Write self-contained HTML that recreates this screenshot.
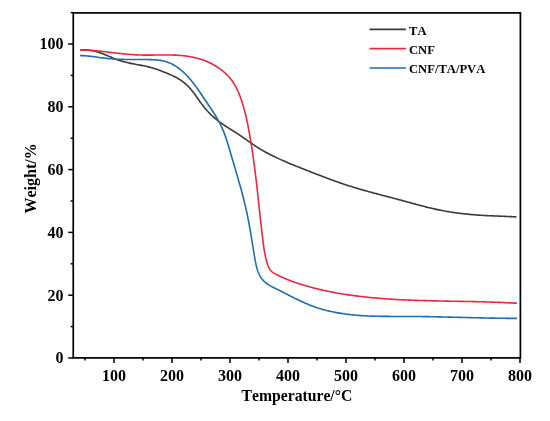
<!DOCTYPE html>
<html><head><meta charset="utf-8"><style>
html,body{margin:0;padding:0;background:#fff;}
svg{display:block;will-change:transform;}
text{font-family:"Liberation Serif",serif;font-weight:bold;fill:#000;font-kerning:none;}
</style></head><body>
<svg width="550" height="421" viewBox="0 0 550 421">
<rect width="550" height="421" fill="#fff"/>
<g fill="none" stroke-width="1.6" stroke-linejoin="round" stroke-linecap="butt">
<path d="M79.98,49.99 L81.22,49.89 L82.46,49.83 L83.69,49.81 L84.91,49.83 L86.12,49.88 L87.33,49.97 L88.52,50.09 L89.71,50.24 L90.89,50.42 L92.06,50.63 L93.22,50.87 L94.38,51.14 L95.54,51.42 L96.68,51.74 L97.83,52.07 L98.96,52.43 L100.09,52.81 L101.22,53.20 L102.34,53.62 L103.46,54.04 L104.57,54.49 L105.69,54.95 L106.80,55.41 L107.90,55.89 L109.01,56.37 L110.12,56.85 L111.23,57.32 L112.34,57.79 L113.45,58.25 L114.57,58.70 L115.69,59.13 L116.82,59.55 L117.95,59.94 L119.09,60.32 L120.24,60.69 L121.38,61.03 L122.54,61.37 L123.69,61.69 L124.85,61.99 L126.01,62.29 L127.18,62.57 L128.35,62.84 L129.52,63.10 L130.69,63.36 L131.87,63.60 L133.05,63.83 L134.23,64.06 L135.41,64.29 L136.59,64.51 L137.77,64.72 L138.95,64.94 L140.13,65.16 L141.31,65.38 L142.49,65.61 L143.66,65.84 L144.84,66.08 L146.01,66.33 L147.18,66.59 L148.35,66.86 L149.51,67.15 L150.67,67.45 L151.82,67.77 L152.97,68.10 L154.11,68.46 L155.25,68.83 L156.39,69.21 L157.52,69.60 L158.65,70.01 L159.78,70.42 L160.91,70.84 L162.03,71.27 L163.15,71.69 L164.28,72.13 L165.39,72.57 L166.51,73.01 L167.62,73.47 L168.73,73.93 L169.84,74.41 L170.94,74.89 L172.03,75.40 L173.11,75.91 L174.19,76.44 L175.26,76.99 L176.33,77.56 L177.38,78.15 L178.42,78.76 L179.44,79.38 L180.46,80.03 L181.45,80.70 L182.43,81.39 L183.39,82.10 L184.33,82.84 L185.25,83.60 L186.14,84.38 L187.01,85.19 L187.86,86.02 L188.69,86.87 L189.50,87.75 L190.29,88.64 L191.07,89.54 L191.83,90.47 L192.58,91.40 L193.32,92.35 L194.04,93.31 L194.76,94.28 L195.47,95.25 L196.18,96.24 L196.88,97.22 L197.58,98.21 L198.28,99.20 L198.97,100.20 L199.67,101.19 L200.37,102.17 L201.08,103.15 L201.80,104.13 L202.52,105.10 L203.25,106.06 L203.99,107.01 L204.74,107.95 L205.51,108.87 L206.29,109.78 L207.08,110.68 L207.89,111.56 L208.71,112.43 L209.55,113.29 L210.39,114.13 L211.25,114.96 L212.12,115.78 L213.01,116.58 L213.90,117.37 L214.80,118.15 L215.72,118.92 L216.65,119.67 L217.58,120.41 L218.53,121.14 L219.49,121.86 L220.45,122.57 L221.43,123.26 L222.41,123.95 L223.40,124.63 L224.39,125.30 L225.39,125.96 L226.40,126.62 L227.41,127.28 L228.42,127.93 L229.44,128.57 L230.46,129.22 L231.48,129.86 L232.50,130.50 L233.52,131.15 L234.54,131.79 L235.55,132.44 L236.57,133.09 L237.58,133.75 L238.59,134.41 L239.59,135.07 L240.59,135.75 L241.58,136.43 L242.57,137.12 L243.56,137.80 L244.55,138.50 L245.53,139.19 L246.51,139.89 L247.49,140.59 L248.47,141.28 L249.45,141.97 L250.44,142.67 L251.42,143.35 L252.41,144.03 L253.40,144.71 L254.39,145.38 L255.39,146.04 L256.40,146.69 L257.41,147.33 L258.43,147.97 L259.45,148.59 L260.47,149.21 L261.50,149.82 L262.54,150.42 L263.58,151.02 L264.62,151.60 L265.67,152.18 L266.72,152.75 L267.78,153.32 L268.84,153.87 L269.91,154.43 L270.97,154.97 L272.05,155.51 L273.12,156.04 L274.20,156.57 L275.28,157.09 L276.37,157.60 L277.46,158.11 L278.55,158.62 L279.64,159.12 L280.74,159.62 L281.84,160.11 L282.94,160.60 L284.04,161.08 L285.15,161.56 L286.25,162.03 L287.36,162.51 L288.47,162.97 L289.59,163.44 L290.70,163.90 L291.82,164.36 L292.93,164.82 L294.05,165.28 L295.17,165.73 L296.29,166.18 L297.41,166.63 L298.53,167.08 L299.65,167.52 L300.77,167.97 L301.89,168.41 L303.02,168.86 L304.14,169.30 L305.26,169.74 L306.38,170.19 L307.50,170.63 L308.62,171.07 L309.75,171.51 L310.87,171.95 L311.99,172.39 L313.11,172.83 L314.23,173.27 L315.35,173.70 L316.47,174.14 L317.60,174.57 L318.72,175.00 L319.84,175.44 L320.96,175.87 L322.09,176.29 L323.21,176.72 L324.33,177.15 L325.46,177.57 L326.58,177.99 L327.71,178.41 L328.84,178.83 L329.96,179.24 L331.09,179.66 L332.22,180.07 L333.35,180.48 L334.48,180.88 L335.61,181.28 L336.74,181.68 L337.87,182.08 L339.00,182.48 L340.14,182.87 L341.27,183.26 L342.41,183.65 L343.54,184.03 L344.68,184.41 L345.82,184.78 L346.96,185.16 L348.10,185.53 L349.25,185.89 L350.39,186.25 L351.54,186.61 L352.68,186.97 L353.83,187.32 L354.98,187.67 L356.13,188.02 L357.28,188.36 L358.43,188.70 L359.59,189.04 L360.74,189.37 L361.89,189.71 L363.05,190.04 L364.21,190.37 L365.36,190.69 L366.52,191.02 L367.68,191.34 L368.84,191.66 L370.00,191.98 L371.16,192.30 L372.32,192.61 L373.48,192.93 L374.64,193.24 L375.80,193.55 L376.97,193.86 L378.13,194.17 L379.29,194.48 L380.46,194.79 L381.62,195.10 L382.78,195.40 L383.95,195.71 L385.11,196.02 L386.28,196.32 L387.44,196.63 L388.61,196.93 L389.77,197.24 L390.94,197.54 L392.10,197.85 L393.26,198.16 L394.43,198.46 L395.59,198.77 L396.76,199.08 L397.92,199.39 L399.08,199.70 L400.25,200.01 L401.41,200.32 L402.57,200.63 L403.73,200.95 L404.89,201.27 L406.05,201.58 L407.21,201.90 L408.38,202.22 L409.54,202.54 L410.70,202.86 L411.85,203.18 L413.01,203.49 L414.17,203.81 L415.33,204.13 L416.49,204.44 L417.66,204.76 L418.82,205.07 L419.98,205.38 L421.14,205.69 L422.30,205.99 L423.46,206.30 L424.63,206.60 L425.79,206.89 L426.96,207.19 L428.12,207.48 L429.29,207.76 L430.45,208.04 L431.62,208.32 L432.79,208.59 L433.96,208.86 L435.14,209.12 L436.31,209.37 L437.48,209.62 L438.66,209.86 L439.84,210.10 L441.01,210.33 L442.19,210.56 L443.37,210.78 L444.56,211.00 L445.74,211.21 L446.92,211.42 L448.11,211.62 L449.29,211.81 L450.48,212.00 L451.67,212.19 L452.86,212.37 L454.04,212.54 L455.23,212.71 L456.43,212.88 L457.62,213.04 L458.81,213.19 L460.00,213.34 L461.20,213.49 L462.39,213.63 L463.59,213.77 L464.78,213.90 L465.98,214.03 L467.18,214.15 L468.37,214.27 L469.57,214.39 L470.77,214.50 L471.97,214.61 L473.17,214.71 L474.36,214.81 L475.56,214.90 L476.76,214.99 L477.96,215.08 L479.16,215.16 L480.36,215.24 L481.56,215.31 L482.77,215.39 L483.97,215.45 L485.17,215.52 L486.37,215.58 L487.57,215.64 L488.77,215.70 L489.97,215.75 L491.17,215.81 L492.37,215.86 L493.58,215.91 L494.78,215.96 L495.98,216.01 L497.18,216.06 L498.38,216.10 L499.58,216.15 L500.79,216.20 L501.99,216.25 L503.19,216.29 L504.39,216.34 L505.59,216.39 L506.79,216.44 L507.99,216.49 L509.19,216.55 L510.40,216.60 L511.60,216.66 L512.80,216.72 L514.00,216.78 L515.20,216.84 L516.40,216.91" stroke="#3a3a3a"/>
<path d="M79.99,49.81 L81.51,49.85 L83.04,49.90 L84.56,49.96 L86.08,50.03 L87.60,50.12 L89.11,50.22 L90.63,50.33 L92.15,50.44 L93.66,50.57 L95.17,50.71 L96.69,50.85 L98.20,51.00 L99.71,51.16 L101.22,51.32 L102.73,51.48 L104.23,51.65 L105.74,51.83 L107.25,52.00 L108.76,52.18 L110.26,52.36 L111.77,52.53 L113.28,52.71 L114.79,52.89 L116.29,53.07 L117.80,53.24 L119.31,53.41 L120.82,53.57 L122.33,53.73 L123.83,53.89 L125.34,54.04 L126.86,54.18 L128.37,54.31 L129.88,54.44 L131.39,54.55 L132.91,54.66 L134.42,54.76 L135.94,54.84 L137.46,54.92 L138.98,54.98 L140.50,55.02 L142.02,55.06 L143.55,55.08 L145.07,55.10 L146.60,55.11 L148.13,55.11 L149.65,55.10 L151.18,55.09 L152.71,55.08 L154.24,55.06 L155.76,55.04 L157.29,55.02 L158.82,55.00 L160.35,54.99 L161.87,54.97 L163.40,54.96 L164.92,54.96 L166.45,54.96 L167.97,54.97 L169.49,54.99 L171.01,55.01 L172.53,55.05 L174.05,55.10 L175.56,55.17 L177.07,55.24 L178.58,55.34 L180.09,55.44 L181.59,55.57 L183.10,55.72 L184.60,55.88 L186.09,56.07 L187.59,56.27 L189.08,56.51 L190.56,56.76 L192.05,57.04 L193.53,57.35 L195.00,57.68 L196.47,58.05 L197.94,58.44 L199.40,58.87 L200.86,59.32 L202.31,59.80 L203.75,60.32 L205.18,60.86 L206.59,61.43 L208.00,62.04 L209.39,62.67 L210.77,63.33 L212.13,64.02 L213.48,64.75 L214.81,65.50 L216.12,66.28 L217.40,67.09 L218.67,67.93 L219.91,68.80 L221.13,69.70 L222.32,70.63 L223.49,71.59 L224.63,72.58 L225.74,73.60 L226.83,74.64 L227.88,75.72 L228.89,76.83 L229.88,77.96 L230.83,79.13 L231.74,80.32 L232.62,81.54 L233.46,82.79 L234.27,84.07 L235.04,85.38 L235.77,86.70 L236.48,88.05 L237.15,89.42 L237.80,90.80 L238.42,92.20 L239.02,93.61 L239.59,95.04 L240.14,96.47 L240.67,97.91 L241.18,99.36 L241.67,100.81 L242.14,102.27 L242.60,103.72 L243.05,105.18 L243.47,106.65 L243.89,108.11 L244.29,109.58 L244.68,111.05 L245.06,112.52 L245.42,114.00 L245.78,115.47 L246.12,116.95 L246.46,118.43 L246.78,119.91 L247.10,121.39 L247.41,122.88 L247.71,124.36 L248.01,125.85 L248.30,127.34 L248.58,128.83 L248.86,130.32 L249.14,131.81 L249.41,133.30 L249.68,134.79 L249.94,136.29 L250.20,137.78 L250.46,139.27 L250.71,140.77 L250.95,142.27 L251.20,143.76 L251.44,145.26 L251.67,146.76 L251.91,148.26 L252.13,149.76 L252.36,151.26 L252.58,152.76 L252.80,154.26 L253.02,155.76 L253.23,157.26 L253.44,158.77 L253.65,160.27 L253.85,161.77 L254.05,163.28 L254.25,164.78 L254.45,166.29 L254.64,167.80 L254.84,169.30 L255.03,170.81 L255.21,172.32 L255.40,173.82 L255.58,175.33 L255.76,176.84 L255.94,178.35 L256.12,179.86 L256.30,181.37 L256.47,182.88 L256.65,184.39 L256.82,185.90 L256.99,187.41 L257.16,188.92 L257.33,190.43 L257.50,191.94 L257.67,193.45 L257.83,194.96 L258.00,196.47 L258.16,197.99 L258.33,199.50 L258.49,201.01 L258.66,202.52 L258.82,204.03 L258.98,205.55 L259.15,207.06 L259.31,208.57 L259.47,210.08 L259.64,211.59 L259.80,213.11 L259.96,214.62 L260.13,216.13 L260.29,217.64 L260.46,219.15 L260.62,220.66 L260.79,222.18 L260.96,223.69 L261.13,225.20 L261.30,226.71 L261.47,228.22 L261.64,229.73 L261.82,231.24 L261.99,232.75 L262.17,234.26 L262.35,235.77 L262.52,237.28 L262.71,238.79 L262.89,240.30 L263.08,241.80 L263.27,243.31 L263.47,244.82 L263.68,246.32 L263.90,247.83 L264.13,249.33 L264.38,250.83 L264.64,252.33 L264.92,253.83 L265.21,255.32 L265.53,256.82 L265.87,258.31 L266.23,259.80 L266.62,261.28 L267.04,262.76 L267.49,264.24 L268.00,265.68 L268.57,267.08 L269.23,268.41 L270.00,269.65 L270.89,270.78 L271.93,271.78 L273.12,272.64 L274.40,273.41 L275.74,274.13 L277.09,274.82 L278.44,275.50 L279.81,276.16 L281.18,276.81 L282.57,277.44 L283.96,278.06 L285.35,278.66 L286.76,279.25 L288.17,279.82 L289.59,280.38 L291.01,280.92 L292.44,281.46 L293.87,281.98 L295.31,282.48 L296.75,282.98 L298.20,283.46 L299.65,283.93 L301.11,284.40 L302.57,284.85 L304.03,285.29 L305.49,285.72 L306.96,286.14 L308.43,286.55 L309.90,286.96 L311.38,287.35 L312.85,287.74 L314.32,288.12 L315.80,288.49 L317.28,288.85 L318.76,289.21 L320.24,289.56 L321.72,289.90 L323.20,290.23 L324.69,290.56 L326.17,290.88 L327.66,291.19 L329.15,291.50 L330.64,291.79 L332.13,292.09 L333.62,292.37 L335.11,292.65 L336.60,292.92 L338.09,293.19 L339.59,293.44 L341.08,293.70 L342.58,293.94 L344.08,294.18 L345.57,294.42 L347.07,294.65 L348.57,294.87 L350.07,295.09 L351.57,295.30 L353.08,295.51 L354.58,295.71 L356.08,295.90 L357.58,296.10 L359.09,296.28 L360.59,296.46 L362.10,296.64 L363.61,296.81 L365.11,296.98 L366.62,297.14 L368.13,297.30 L369.64,297.45 L371.15,297.60 L372.66,297.74 L374.17,297.88 L375.68,298.02 L377.19,298.15 L378.70,298.28 L380.21,298.40 L381.72,298.52 L383.24,298.63 L384.75,298.75 L386.27,298.85 L387.78,298.96 L389.29,299.06 L390.81,299.16 L392.33,299.25 L393.84,299.35 L395.36,299.43 L396.88,299.52 L398.39,299.60 L399.91,299.68 L401.43,299.76 L402.95,299.83 L404.46,299.90 L405.98,299.97 L407.50,300.04 L409.02,300.10 L410.54,300.16 L412.06,300.22 L413.58,300.28 L415.10,300.33 L416.62,300.38 L418.14,300.43 L419.66,300.48 L421.19,300.53 L422.71,300.57 L424.23,300.62 L425.75,300.66 L427.27,300.70 L428.79,300.74 L430.32,300.78 L431.84,300.81 L433.36,300.85 L434.88,300.88 L436.40,300.91 L437.93,300.95 L439.45,300.98 L440.97,301.01 L442.49,301.04 L444.02,301.07 L445.54,301.09 L447.06,301.12 L448.58,301.15 L450.11,301.18 L451.63,301.20 L453.15,301.23 L454.67,301.26 L456.20,301.28 L457.72,301.31 L459.24,301.34 L460.76,301.37 L462.28,301.39 L463.80,301.42 L465.33,301.45 L466.85,301.48 L468.37,301.51 L469.89,301.54 L471.41,301.57 L472.93,301.60 L474.45,301.63 L475.97,301.67 L477.49,301.70 L479.01,301.74 L480.53,301.78 L482.05,301.82 L483.57,301.86 L485.09,301.90 L486.61,301.94 L488.12,301.99 L489.64,302.03 L491.16,302.08 L492.67,302.13 L494.19,302.19 L495.71,302.24 L497.22,302.30 L498.74,302.36 L500.25,302.42 L501.77,302.48 L503.28,302.55 L504.80,302.61 L506.31,302.69 L507.82,302.76 L509.33,302.84 L510.85,302.91 L512.36,303.00 L513.87,303.08 L515.38,303.17 L516.89,303.26" stroke="#e8283f"/>
<path d="M80.01,55.57 L81.49,55.58 L82.98,55.62 L84.46,55.70 L85.95,55.80 L87.43,55.93 L88.92,56.08 L90.40,56.25 L91.89,56.43 L93.37,56.63 L94.86,56.83 L96.34,57.04 L97.83,57.26 L99.31,57.47 L100.79,57.68 L102.28,57.88 L103.76,58.07 L105.24,58.25 L106.72,58.41 L108.20,58.56 L109.68,58.70 L111.16,58.82 L112.64,58.93 L114.12,59.03 L115.60,59.11 L117.08,59.19 L118.56,59.26 L120.04,59.31 L121.52,59.36 L123.00,59.40 L124.48,59.44 L125.96,59.46 L127.45,59.49 L128.93,59.50 L130.42,59.52 L131.91,59.53 L133.40,59.53 L134.89,59.54 L136.39,59.54 L137.88,59.54 L139.38,59.54 L140.88,59.54 L142.38,59.54 L143.89,59.55 L145.40,59.55 L146.91,59.56 L148.42,59.58 L149.94,59.60 L151.45,59.64 L152.96,59.70 L154.46,59.78 L155.96,59.89 L157.45,60.02 L158.93,60.20 L160.41,60.41 L161.87,60.66 L163.32,60.95 L164.75,61.30 L166.17,61.70 L167.56,62.16 L168.94,62.68 L170.30,63.26 L171.64,63.89 L172.96,64.57 L174.26,65.30 L175.53,66.07 L176.78,66.89 L178.00,67.74 L179.20,68.62 L180.37,69.54 L181.52,70.48 L182.64,71.45 L183.73,72.44 L184.81,73.46 L185.86,74.50 L186.89,75.56 L187.90,76.64 L188.89,77.74 L189.86,78.86 L190.82,80.00 L191.76,81.15 L192.69,82.32 L193.60,83.50 L194.50,84.69 L195.39,85.90 L196.27,87.11 L197.15,88.33 L198.01,89.56 L198.87,90.80 L199.72,92.04 L200.57,93.28 L201.42,94.53 L202.26,95.78 L203.10,97.03 L203.94,98.28 L204.79,99.52 L205.63,100.77 L206.48,102.01 L207.32,103.25 L208.17,104.49 L209.01,105.73 L209.85,106.97 L210.68,108.21 L211.51,109.45 L212.33,110.69 L213.14,111.94 L213.94,113.19 L214.74,114.45 L215.52,115.71 L216.28,116.98 L217.04,118.25 L217.77,119.53 L218.50,120.82 L219.20,122.12 L219.89,123.42 L220.55,124.74 L221.20,126.07 L221.82,127.40 L222.42,128.75 L223.00,130.11 L223.56,131.48 L224.11,132.86 L224.64,134.25 L225.15,135.64 L225.64,137.05 L226.13,138.46 L226.60,139.87 L227.06,141.29 L227.51,142.72 L227.96,144.15 L228.40,145.58 L228.83,147.02 L229.25,148.45 L229.67,149.89 L230.09,151.34 L230.51,152.78 L230.93,154.22 L231.35,155.66 L231.77,157.10 L232.19,158.54 L232.62,159.98 L233.04,161.42 L233.46,162.86 L233.89,164.30 L234.31,165.74 L234.74,167.17 L235.16,168.61 L235.58,170.05 L236.00,171.48 L236.43,172.92 L236.84,174.35 L237.26,175.79 L237.68,177.23 L238.09,178.66 L238.51,180.10 L238.92,181.53 L239.32,182.97 L239.73,184.41 L240.13,185.84 L240.53,187.28 L240.93,188.72 L241.32,190.15 L241.71,191.59 L242.09,193.03 L242.47,194.47 L242.85,195.91 L243.22,197.35 L243.59,198.79 L243.95,200.23 L244.31,201.67 L244.66,203.11 L245.00,204.56 L245.34,206.00 L245.68,207.44 L246.00,208.89 L246.33,210.34 L246.64,211.79 L246.95,213.23 L247.25,214.69 L247.55,216.14 L247.84,217.59 L248.13,219.04 L248.41,220.50 L248.69,221.95 L248.96,223.41 L249.23,224.87 L249.50,226.33 L249.76,227.79 L250.02,229.26 L250.28,230.72 L250.53,232.19 L250.78,233.65 L251.03,235.12 L251.27,236.59 L251.52,238.07 L251.76,239.54 L252.00,241.02 L252.24,242.50 L252.48,243.97 L252.72,245.46 L252.96,246.94 L253.20,248.42 L253.44,249.91 L253.68,251.40 L253.93,252.89 L254.17,254.38 L254.41,255.88 L254.66,257.38 L254.91,258.87 L255.17,260.37 L255.45,261.86 L255.75,263.35 L256.07,264.83 L256.42,266.30 L256.81,267.76 L257.23,269.21 L257.69,270.65 L258.20,272.06 L258.76,273.44 L259.38,274.79 L260.06,276.09 L260.80,277.35 L261.61,278.54 L262.49,279.66 L263.44,280.71 L264.47,281.70 L265.56,282.62 L266.70,283.50 L267.89,284.32 L269.13,285.11 L270.40,285.86 L271.70,286.58 L273.03,287.28 L274.37,287.96 L275.72,288.63 L277.08,289.30 L278.43,289.98 L279.78,290.65 L281.13,291.33 L282.48,292.01 L283.82,292.70 L285.16,293.38 L286.51,294.06 L287.85,294.74 L289.19,295.42 L290.53,296.10 L291.87,296.77 L293.21,297.44 L294.55,298.10 L295.89,298.76 L297.23,299.41 L298.58,300.06 L299.93,300.70 L301.28,301.33 L302.63,301.95 L303.99,302.56 L305.35,303.16 L306.71,303.75 L308.08,304.32 L309.45,304.89 L310.83,305.44 L312.21,305.98 L313.60,306.50 L315.00,307.00 L316.40,307.49 L317.81,307.96 L319.22,308.42 L320.64,308.86 L322.07,309.28 L323.50,309.68 L324.94,310.07 L326.38,310.44 L327.83,310.80 L329.28,311.14 L330.74,311.47 L332.20,311.78 L333.66,312.09 L335.12,312.37 L336.59,312.65 L338.06,312.91 L339.53,313.16 L341.00,313.39 L342.48,313.62 L343.95,313.83 L345.43,314.03 L346.90,314.23 L348.38,314.41 L349.86,314.58 L351.34,314.74 L352.82,314.89 L354.31,315.03 L355.79,315.17 L357.28,315.29 L358.76,315.41 L360.25,315.52 L361.73,315.62 L363.22,315.71 L364.71,315.80 L366.20,315.87 L367.69,315.95 L369.18,316.01 L370.67,316.07 L372.16,316.12 L373.66,316.17 L375.15,316.22 L376.64,316.25 L378.14,316.29 L379.63,316.32 L381.13,316.34 L382.62,316.37 L384.12,316.38 L385.61,316.40 L387.11,316.41 L388.60,316.42 L390.10,316.43 L391.59,316.43 L393.09,316.44 L394.59,316.44 L396.08,316.44 L397.58,316.44 L399.07,316.44 L400.57,316.44 L402.06,316.44 L403.56,316.44 L405.06,316.45 L406.55,316.45 L408.04,316.45 L409.54,316.46 L411.03,316.46 L412.53,316.47 L414.02,316.48 L415.51,316.50 L417.00,316.51 L418.49,316.53 L419.99,316.54 L421.48,316.56 L422.97,316.58 L424.46,316.60 L425.95,316.62 L427.44,316.65 L428.93,316.67 L430.42,316.70 L431.91,316.73 L433.40,316.75 L434.89,316.78 L436.38,316.81 L437.87,316.84 L439.36,316.87 L440.84,316.91 L442.33,316.94 L443.82,316.97 L445.31,317.01 L446.80,317.04 L448.29,317.08 L449.78,317.11 L451.26,317.15 L452.75,317.19 L454.24,317.22 L455.73,317.26 L457.22,317.30 L458.70,317.34 L460.19,317.38 L461.68,317.41 L463.17,317.45 L464.66,317.49 L466.15,317.53 L467.63,317.56 L469.12,317.60 L470.61,317.64 L472.10,317.68 L473.59,317.71 L475.08,317.75 L476.57,317.78 L478.06,317.82 L479.55,317.85 L481.04,317.89 L482.53,317.92 L484.02,317.95 L485.51,317.99 L487.00,318.02 L488.49,318.05 L489.99,318.08 L491.48,318.11 L492.97,318.13 L494.46,318.16 L495.96,318.19 L497.45,318.21 L498.94,318.23 L500.44,318.25 L501.93,318.27 L503.43,318.29 L504.92,318.31 L506.42,318.33 L507.91,318.34 L509.41,318.35 L510.91,318.37 L512.41,318.38 L513.90,318.38 L515.40,318.39 L516.90,318.39" stroke="#1e6db0"/>
</g>
<rect x="73.25" y="12.9" width="447.15" height="345.00" fill="none" stroke="#000" stroke-width="1.7"/>
<g stroke="#000" stroke-width="1.5">
<line x1="85.00" y1="357.9" x2="85.00" y2="360.50"/>
<line x1="114.00" y1="357.9" x2="114.00" y2="362.90"/>
<line x1="143.00" y1="357.9" x2="143.00" y2="360.50"/>
<line x1="172.00" y1="357.9" x2="172.00" y2="362.90"/>
<line x1="201.00" y1="357.9" x2="201.00" y2="360.50"/>
<line x1="230.00" y1="357.9" x2="230.00" y2="362.90"/>
<line x1="259.00" y1="357.9" x2="259.00" y2="360.50"/>
<line x1="288.00" y1="357.9" x2="288.00" y2="362.90"/>
<line x1="317.00" y1="357.9" x2="317.00" y2="360.50"/>
<line x1="346.00" y1="357.9" x2="346.00" y2="362.90"/>
<line x1="375.00" y1="357.9" x2="375.00" y2="360.50"/>
<line x1="404.00" y1="357.9" x2="404.00" y2="362.90"/>
<line x1="433.00" y1="357.9" x2="433.00" y2="360.50"/>
<line x1="462.00" y1="357.9" x2="462.00" y2="362.90"/>
<line x1="491.00" y1="357.9" x2="491.00" y2="360.50"/>
<line x1="520.00" y1="357.9" x2="520.00" y2="362.90"/>
<line x1="68.25" y1="358.00" x2="73.25" y2="358.00"/>
<line x1="70.65" y1="326.60" x2="73.25" y2="326.60"/>
<line x1="68.25" y1="295.20" x2="73.25" y2="295.20"/>
<line x1="70.65" y1="263.80" x2="73.25" y2="263.80"/>
<line x1="68.25" y1="232.40" x2="73.25" y2="232.40"/>
<line x1="70.65" y1="201.00" x2="73.25" y2="201.00"/>
<line x1="68.25" y1="169.60" x2="73.25" y2="169.60"/>
<line x1="70.65" y1="138.20" x2="73.25" y2="138.20"/>
<line x1="68.25" y1="106.80" x2="73.25" y2="106.80"/>
<line x1="70.65" y1="75.40" x2="73.25" y2="75.40"/>
<line x1="68.25" y1="44.00" x2="73.25" y2="44.00"/>
<line x1="70.65" y1="12.60" x2="73.25" y2="12.60"/>
</g>
<g font-size="16">
<text x="114.00" y="380.6" text-anchor="middle">100</text>
<text x="172.00" y="380.6" text-anchor="middle">200</text>
<text x="230.00" y="380.6" text-anchor="middle">300</text>
<text x="288.00" y="380.6" text-anchor="middle">400</text>
<text x="346.00" y="380.6" text-anchor="middle">500</text>
<text x="404.00" y="380.6" text-anchor="middle">600</text>
<text x="462.00" y="380.6" text-anchor="middle">700</text>
<text x="520.00" y="380.6" text-anchor="middle">800</text>
<text x="63.6" y="363.30" text-anchor="end">0</text>
<text x="63.6" y="300.50" text-anchor="end">20</text>
<text x="63.6" y="237.70" text-anchor="end">40</text>
<text x="63.6" y="174.90" text-anchor="end">60</text>
<text x="63.6" y="112.10" text-anchor="end">80</text>
<text x="63.6" y="49.30" text-anchor="end">100</text>
</g>
<text x="296.9" y="400.7" font-size="15.7" text-anchor="middle">Temperature/°C</text>
<text transform="translate(36.2,213.5) rotate(-90)" font-size="16">Weight/%</text>
<g stroke-width="1.6">
<line x1="369.6" y1="29.4" x2="405.9" y2="29.4" stroke="#3a3a3a"/>
<line x1="369.6" y1="48.6" x2="405.9" y2="48.6" stroke="#e8283f"/>
<line x1="369.6" y1="68.0" x2="405.9" y2="68.0" stroke="#1e6db0"/>
</g>
<g font-size="12.6">
<text x="409" y="34.5">TA</text>
<text x="409" y="53.7">CNF</text>
<text x="409" y="73.2">CNF/TA/PVA</text>
</g>
</svg>
</body></html>
